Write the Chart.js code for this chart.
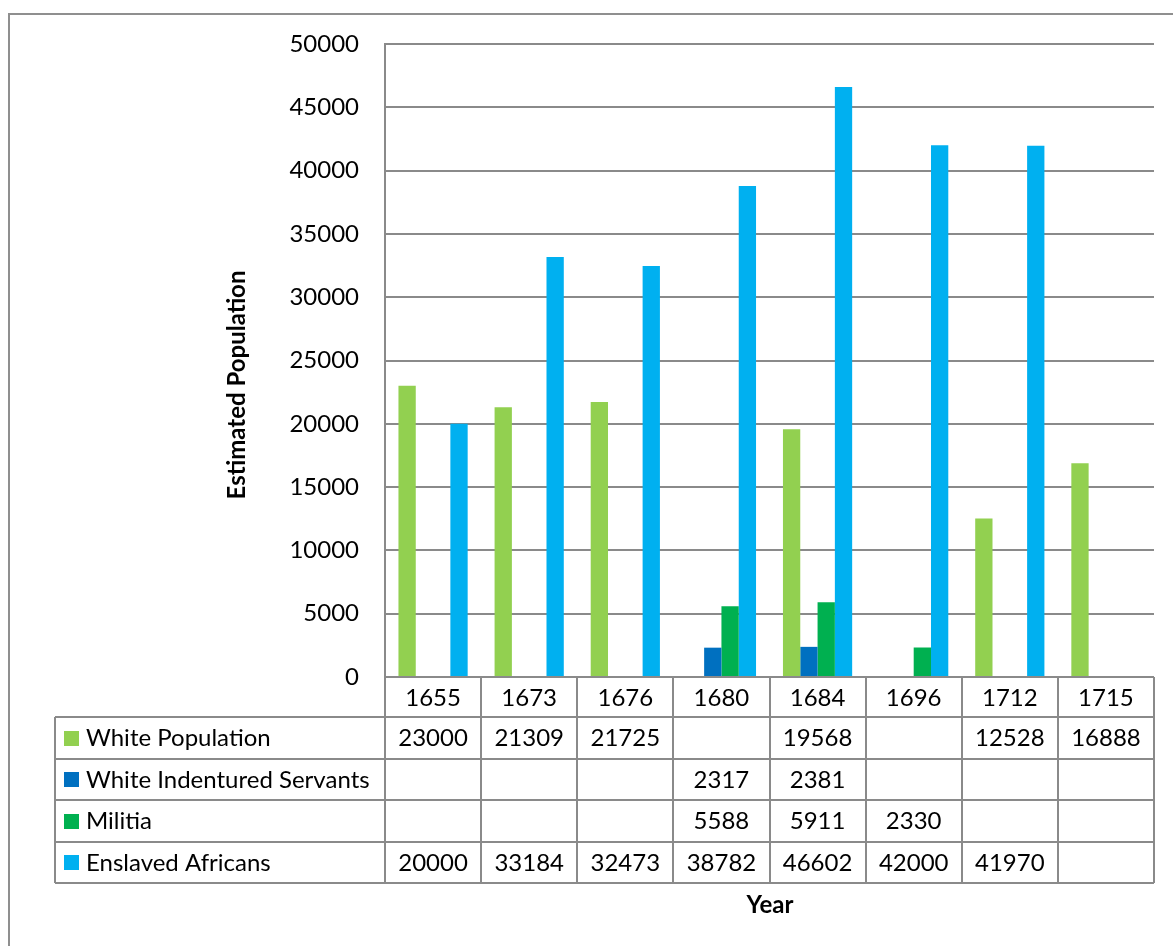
<!DOCTYPE html>
<html lang="en">
<head>
  <meta charset="UTF-8">
  <title>Estimated Population by Year</title>
  <script src="https://cdn.jsdelivr.net/npm/chart.js"></script>
  <style>
    body { margin: 0; background: #fff; }
    canvas { display: block; }
  </style>
</head>
<body>
  <canvas id="pop" width="1173" height="946"></canvas>
  <script>
    const years = ['1655', '1673', '1676', '1680', '1684', '1696', '1712', '1715'];
    const whitePopulation = [23000, 21309, 21725, null, 19568, null, 12528, 16888];
    const indentured = [null, null, null, 2317, 2381, null, null, null];
    const militia = [null, null, null, 5588, 5911, 2330, null, null];
    const enslaved = [20000, 33184, 32473, 38782, 46602, 42000, 41970, null];
    const yTicks = { min: 0, max: 50000, step: 5000 };

    const FONT = 'Lato, Calibri, Carlito, sans-serif';
    const GRID = '#8a8a8a';

    const series = [
      { label: 'White Population', data: whitePopulation, color: '#92D050' },
      { label: 'White Indentured Servants', data: indentured, color: '#0070C0' },
      { label: 'Militia', data: militia, color: '#00B050' },
      { label: 'Enslaved Africans', data: enslaved, color: '#00B0F0' }
    ];

    // data table under the plot, plus axis titles and the outer frame
    const tablePlugin = {
      id: 'dataTable',
      beforeDraw(chart) {
        const ctx = chart.ctx;
        ctx.save();
        ctx.strokeStyle = '#8f8f8f';
        ctx.lineWidth = 2;
        ctx.strokeRect(9, 14, 1400, 1400);
        ctx.restore();
      },
      afterDraw(chart) {
        const ctx = chart.ctx;
        const area = chart.chartArea;
        const x = chart.scales.x;
        const step = (area.right - area.left) / years.length;
        const headTop = area.bottom;
        const headBottom = headTop + 40;
        const rowH = 41.5;
        const tableLeft = 55;
        const tableBottom = headBottom + rowH * series.length;

        ctx.save();
        ctx.strokeStyle = GRID;
        ctx.lineWidth = 2;
        // vertical cell dividers
        for (let i = 0; i <= years.length; i++) {
          const vx = Math.round(area.left + i * step);
          ctx.beginPath();
          ctx.moveTo(vx, headTop);
          ctx.lineTo(vx, tableBottom);
          ctx.stroke();
        }
        // left edge of the legend column
        ctx.beginPath();
        ctx.moveTo(tableLeft, headBottom);
        ctx.lineTo(tableLeft, tableBottom);
        ctx.stroke();
        // horizontal rules
        for (let r = 0; r <= series.length; r++) {
          const hy = Math.round(headBottom + r * rowH);
          ctx.beginPath();
          ctx.moveTo(tableLeft, hy);
          ctx.lineTo(area.right, hy);
          ctx.stroke();
        }

        ctx.fillStyle = '#000';
        ctx.font = '24px ' + FONT;
        ctx.textBaseline = 'middle';
        ctx.textAlign = 'center';
        years.forEach((y, i) => {
          ctx.fillText(y, x.getPixelForValue(i), (headTop + headBottom) / 2 + 1);
        });

        series.forEach((s, r) => {
          const cy = headBottom + r * rowH + rowH / 2 + 1;
          ctx.fillStyle = s.color;
          ctx.fillRect(64, Math.round(cy - 8), 15, 15);
          ctx.fillStyle = '#000';
          ctx.textAlign = 'left';
          ctx.fillText(s.label, 86, cy);
          ctx.textAlign = 'center';
          s.data.forEach((v, i) => {
            if (v !== null) ctx.fillText(String(v), x.getPixelForValue(i), cy);
          });
        });

        // axis titles
        ctx.font = 'bold 24px ' + FONT;
        ctx.fillText('Year', 770, 905);
        ctx.translate(237, 385);
        ctx.rotate(-Math.PI / 2);
        ctx.fillText('Estimated Population', 0, 0);
        ctx.restore();
      }
    };

    new Chart(document.getElementById('pop'), {
      type: 'bar',
      data: {
        labels: years,
        datasets: series.map(s => ({
          label: s.label,
          data: s.data,
          backgroundColor: s.color,
          borderWidth: 0,
          categoryPercentage: 0.72,
          barPercentage: 1
        }))
      },
      options: {
        responsive: false,
        animation: false,
        layout: { padding: { left: 0, top: 44, right: 19, bottom: 269 } },
        plugins: {
          legend: { display: false },
          tooltip: { enabled: false }
        },
        scales: {
          x: { display: false },
          y: {
            min: yTicks.min,
            max: yTicks.max,
            afterFit(scale) { scale.width = 385; },
            ticks: {
              stepSize: yTicks.step,
              padding: 26,
              color: '#000',
              font: { family: FONT, size: 24 },
              callback: v => String(v)
            },
            grid: { color: GRID, lineWidth: 2, drawTicks: false },
            border: { display: true, color: GRID, width: 2 }
          }
        }
      },
      plugins: [tablePlugin]
    });
  </script>
</body>
</html>
